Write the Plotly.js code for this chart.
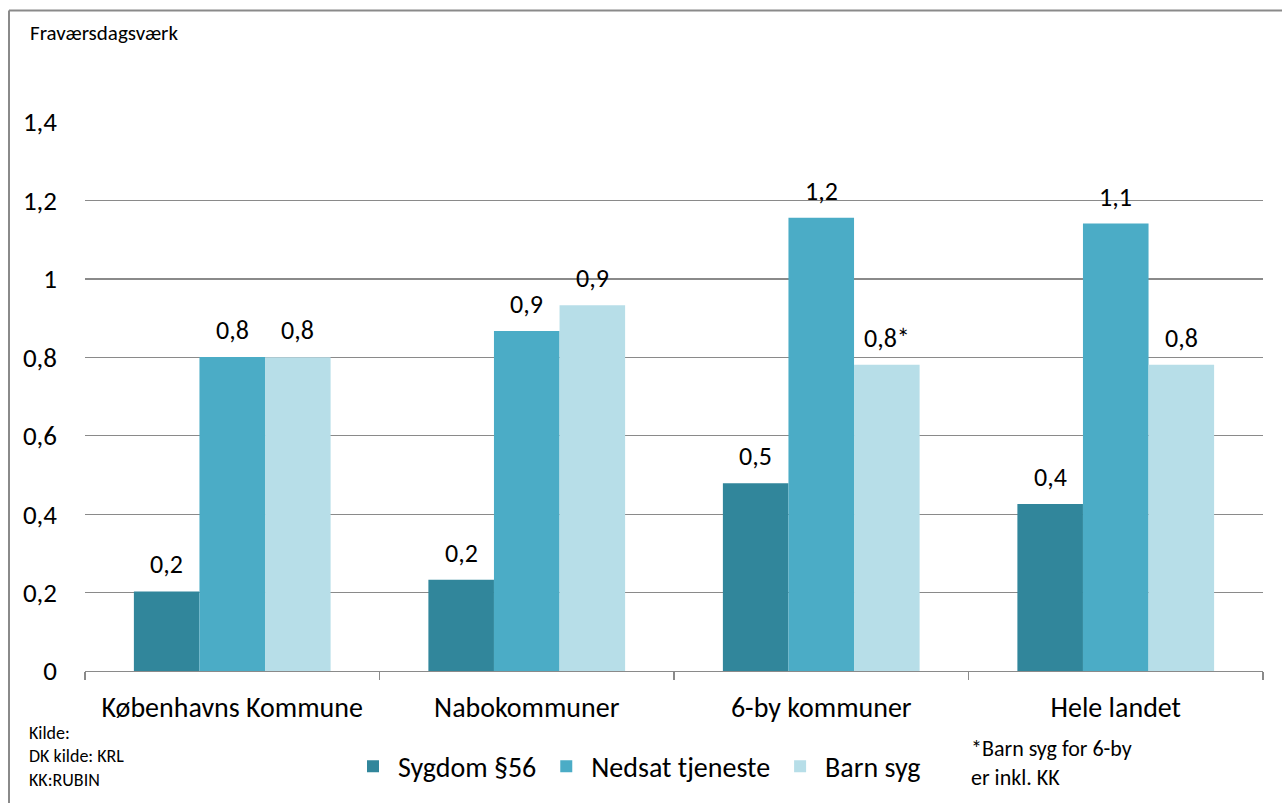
<!DOCTYPE html>
<html>
<head>
<meta charset="utf-8">
<script src="https://cdn.plot.ly/plotly-3.0.1.min.js"></script>
<style>html,body{margin:0;padding:0;background:#fff;}#chart{width:1282px;height:803px;}</style>
</head>
<body>
<div id="chart"></div>
<script>
const categories = ["Københavns Kommune", "Nabokommuner", "6-by kommuner", "Hele landet"];
const seriesNames = ["Sygdom §56", "Nedsat tjeneste", "Barn syg"];
const sygdom = [0.203, 0.233, 0.479, 0.426];
const nedsat = [0.801, 0.867, 1.156, 1.141];
const barnSyg = [0.800, 0.933, 0.781, 0.781];
const sygdomLabels = ["0,2", "0,2", "0,5", "0,4"];
const nedsatLabels = ["0,8", "0,9", "1,2", "1,1"];
const barnSygLabels = ["0,8", "0,9", "0,8*", "0,8"];
const colors = ["#31869B", "#4BACC6", "#B7DEE8"];
const yTicks = [0, 0.2, 0.4, 0.6, 0.8, 1, 1.2, 1.4];
const sourceLines = ["Kilde:", "DK kilde: KRL", "KK:RUBIN"];
const noteLines = ["*Barn syg for 6-by", "er inkl. KK"];

const FONT = "Carlito, Calibri, Lato, sans-serif";
const W = 1282, H = 803;
const L = 85, R = 19, T = 122, B = 129;
const pw = W - L - R, ph = H - T - B;
const px = x => (x - L) / pw;
const py = y => (H - B - y) / ph;

const bargap = 0.332;
const values = [sygdom, nedsat, barnSyg];
const labels = [sygdomLabels, nedsatLabels, barnSygLabels];

const traces = values.map((v, j) => ({
  type: "bar",
  name: seriesNames[j],
  x: categories,
  y: v,
  marker: {color: colors[j], line: {width: 0}},
  hoverinfo: "skip"
}));

const bw = (1 - bargap) / 3;
const annotations = [];
labels.forEach((lab, j) => {
  lab.forEach((t, i) => {
    annotations.push({
      xref: "x", yref: "y",
      x: i + (j - 1) * bw, y: values[j][i],
      text: t, showarrow: false,
      yanchor: "middle", xanchor: "center", yshift: 27,
      font: {family: FONT, size: 26, color: "#000"}
    });
  });
});

annotations.push({xref: "paper", yref: "paper", x: px(28), y: py(33), xanchor: "left", yanchor: "middle",
  text: "Fraværsdagsværk", showarrow: false, font: {family: FONT, size: 21, color: "#000"}});
annotations.push({xref: "paper", yref: "paper", x: px(27), y: py(760), xanchor: "left", yanchor: "middle", align: "left",
  text: sourceLines.join("<br>"), showarrow: false, font: {family: FONT, size: 18, color: "#000"}});
annotations.push({xref: "paper", yref: "paper", x: px(969), y: py(766), xanchor: "left", yanchor: "middle", align: "left",
  text: noteLines.join("<br>"), showarrow: false, font: {family: FONT, size: 22, color: "#000"}});

const layout = {
  width: W, height: H,
  margin: {l: L, r: R, t: T, b: B, pad: 0},
  paper_bgcolor: "#fff", plot_bgcolor: "#fff",
  separators: ",.",
  barmode: "group", bargap: bargap, bargroupgap: 0,
  font: {family: FONT, color: "#000"},
  showlegend: true,
  legend: {orientation: "h", x: px(348), y: py(770), xanchor: "left", yanchor: "middle",
    font: {family: FONT, size: 28, color: "#000"}, itemwidth: 40, tracegroupgap: 0, bgcolor: "rgba(0,0,0,0)"},
  xaxis: {
    type: "category", showgrid: false, showline: true, linecolor: "#8a8a8a", linewidth: 1.3,
    ticks: "outside", tickson: "boundaries", ticklen: 8, tickcolor: "#8a8a8a", tickwidth: 1.3,
    tickfont: {family: FONT, size: 28, color: "#000"}, ticklabelstandoff: 11, fixedrange: true
  },
  yaxis: {
    range: [0, 1.4001], tickvals: yTicks, showgrid: true, gridcolor: "#8a8a8a", gridwidth: 1.3,
    zeroline: false, showline: false, ticks: "",
    tickfont: {family: FONT, size: 27, color: "#000"}, ticklabelstandoff: 27, fixedrange: true
  },
  annotations: annotations,
  shapes: [
    {type: "line", xref: "paper", yref: "paper", x0: px(9), x1: px(1290), y0: py(10), y1: py(10), line: {color: "#8a8a8a", width: 2}},
    {type: "line", xref: "paper", yref: "paper", x0: px(9), x1: px(9), y0: py(10), y1: py(810), line: {color: "#8a8a8a", width: 2}}
  ]
};

Plotly.newPlot("chart", traces, layout, {displayModeBar: false, staticPlot: true});
</script>
</body>
</html>
